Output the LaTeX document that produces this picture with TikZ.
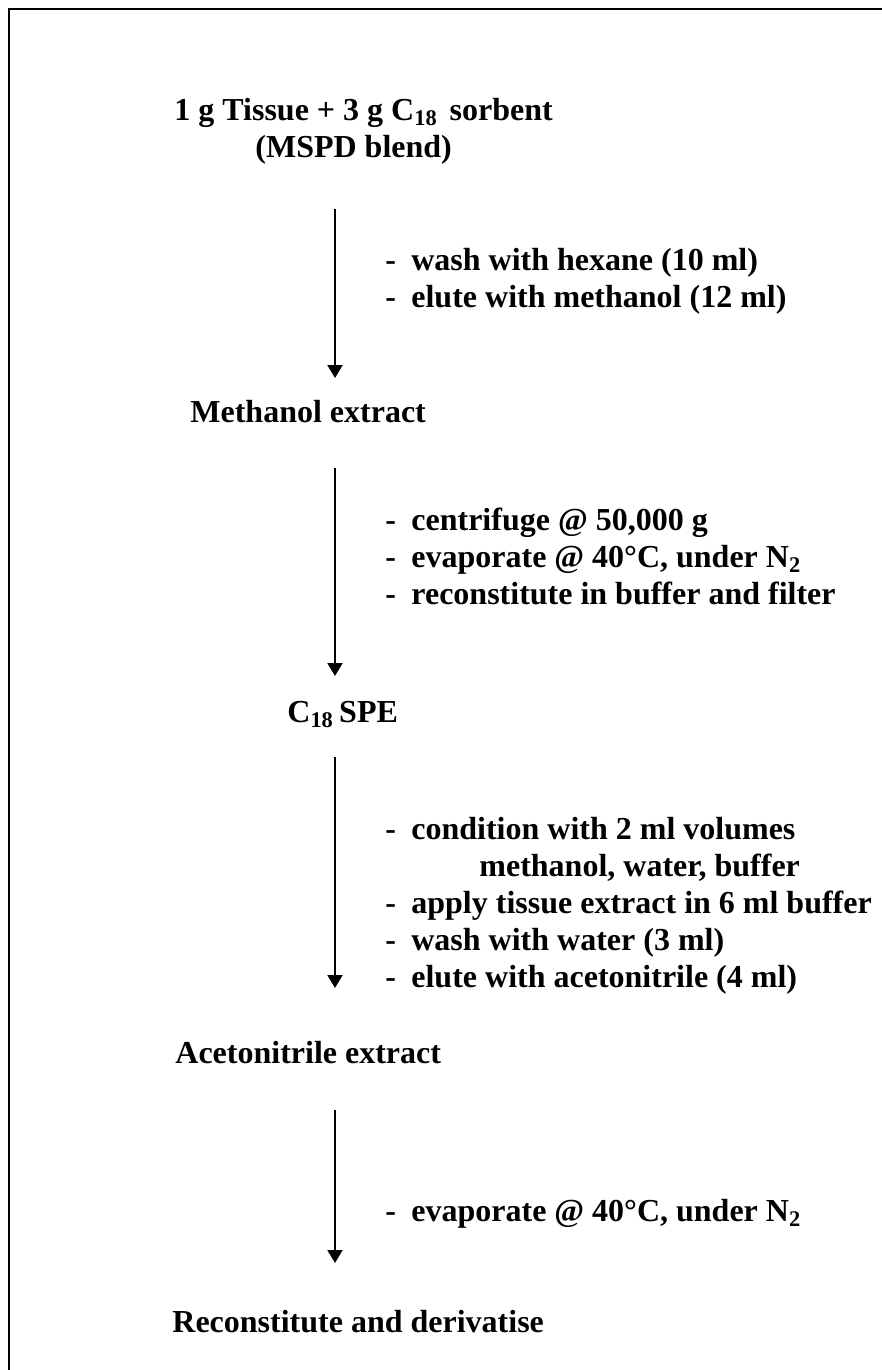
\documentclass[tikz,border=0pt]{standalone}
\usepackage{fontspec}
\setmainfont{Liberation Serif}
\usetikzlibrary{arrows.meta}
\newcommand{\ditem}[1]{\makebox[13pt][l]{-}#1}
\tikzset{
  lbl/.style={anchor=base west, inner sep=0pt, font=\fontsize{16}{18.5}\selectfont\bfseries},
  flow/.style={line width=1pt, -{Triangle[width=7.5pt,length=6.5pt]}},
  frame/.style={line width=1pt}
}
\begin{document}
\begin{tikzpicture}[x=0.5pt,y=-0.5pt]
\useasboundingbox (0,0) rectangle (882,1370);
\draw[frame] (9,1370) -- (9,9) -- (882,9);

\node[lbl] (start) at (174,120) {1 g Tissue + 3 g C\textsubscript{18}\hspace{6pt}sorbent};
\node[lbl] (blend) at (255,157) {(MSPD blend)};
\coordinate (a1s) at (335,209);
\coordinate (a1e) at (335,378);
\draw[flow] (a1s) -- (a1e);
\node[lbl] (s1) at (385,270) {\begin{tabular}[t]{@{}l@{}}
\ditem{wash with hexane (10 ml)}\\
\ditem{elute with methanol (12 ml)}
\end{tabular}};

\node[lbl] (meth) at (190,422) {Methanol extract};
\coordinate (a2s) at (335,468);
\coordinate (a2e) at (335,676);
\draw[flow] (a2s) -- (a2e);
\node[lbl] (s2) at (385,530) {\begin{tabular}[t]{@{}l@{}}
\ditem{centrifuge @ 50,000 g}\\
\ditem{evaporate @ 40°C, under N\textsubscript{2}}\\
\ditem{reconstitute in buffer and filter}
\end{tabular}};

\node[lbl] (spe) at (287,722) {C\textsubscript{18}\,SPE};
\coordinate (a3s) at (335,757);
\coordinate (a3e) at (335,988);
\draw[flow] (a3s) -- (a3e);
\node[lbl] (s3) at (385,839) {\begin{tabular}[t]{@{}l@{}}
\ditem{condition with 2 ml volumes}\\
\hspace{47pt}methanol, water, buffer\\
\ditem{apply tissue extract in 6 ml buffer}\\
\ditem{wash with water (3 ml)}\\
\ditem{elute with acetonitrile (4 ml)}
\end{tabular}};

\node[lbl] (acn) at (175,1063) {Acetonitrile extract};
\coordinate (a4s) at (335,1110);
\coordinate (a4e) at (335,1263);
\draw[flow] (a4s) -- (a4e);
\node[lbl] (s4) at (385,1221) {\ditem{evaporate @ 40°C, under N\textsubscript{2}}};

\node[lbl] (recon) at (172,1332) {Reconstitute and derivatise};
\end{tikzpicture}
\end{document}
